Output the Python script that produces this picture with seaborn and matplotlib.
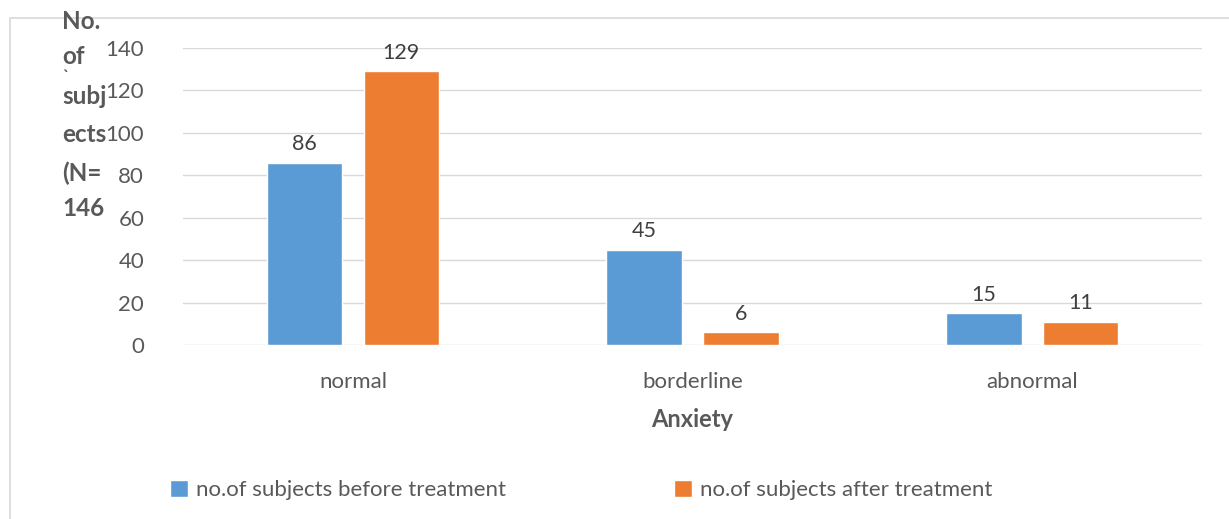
import matplotlib
matplotlib.use("Agg")
import matplotlib.pyplot as plt
import seaborn as sns
import pandas as pd
from matplotlib.patches import Rectangle, Patch

categories = ["normal", "borderline", "abnormal"]
before = [86, 45, 15]
after = [129, 6, 11]
series_names = ["no.of subjects before treatment", "no.of subjects after treatment"]
ylabel_lines = ["No.", "of", "`", "subj", "ects", "(N=", "146"]
colors = ["#5B9BD5", "#ED7D31"]

df = pd.DataFrame({
    "cat": categories * 2,
    "value": before + after,
    "series": [series_names[0]] * 3 + [series_names[1]] * 3,
})

sns.set_style("white")
plt.rcParams["font.family"] = ["Lato", "DejaVu Sans"]
txt = "#595959"

fig = plt.figure(figsize=(12.29, 5.19), dpi=100)
ax = fig.add_axes([0.149, 0.335, 0.829, 0.5725])

sns.barplot(data=df, x="cat", y="value", hue="series", palette=colors,
            width=0.57, gap=0.22, ax=ax, legend=False, saturation=1)

for c in ax.containers:
    ax.bar_label(c, padding=6, fontsize=15.5, color="#404040")

ax.set_ylim(0, 140)
ax.set_yticks(range(0, 141, 20))
ax.grid(axis="y", color="#D9D9D9", linewidth=1)
ax.set_axisbelow(True)
for s in ax.spines.values():
    s.set_visible(False)
ax.tick_params(axis="y", length=0, pad=28, labelsize=16, labelcolor=txt)
ax.tick_params(axis="x", length=0, pad=19, labelsize=16, labelcolor=txt)
ax.set_ylabel("")
ax.set_xlabel("Anxiety", fontsize=17, fontweight="bold", color=txt, labelpad=12)

# wrapped y-axis title
ys = [22, 57, 77, 97, 135, 173, 208]
for line, y in zip(ylabel_lines, ys):
    fig.text(62 / 1229, 1 - y / 519, line, fontsize=17.5 if line != "`" else 12,
             fontweight="bold", color=txt, ha="left", va="center")

handles = [Patch(facecolor=c) for c in colors]
fig.legend(handles, series_names, loc="center left", bbox_to_anchor=(150 / 1229, 1 - 490 / 519),
           ncol=2, frameon=False, fontsize=16, labelcolor=txt, handlelength=0.8,
           handleheight=0.8, handletextpad=0.35, columnspacing=7.6)

fig.patches.append(Rectangle((10 / 1229, -0.1), 1.2, 1 - 18 / 519 + 0.1,
                             transform=fig.transFigure, fill=False,
                             edgecolor="#D9D9D9", linewidth=1.2))

fig.savefig("out.png", dpi=100)
